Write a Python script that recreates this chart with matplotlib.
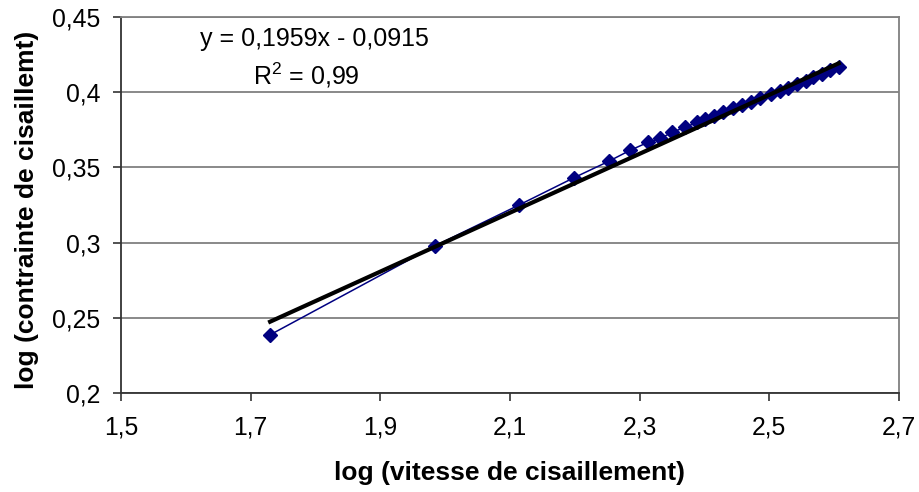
import matplotlib
matplotlib.use("Agg")
import matplotlib.pyplot as plt
import numpy as np

# log (vitesse de cisaillement)
log_shear_rate = [1.730, 1.985, 2.114, 2.198, 2.252, 2.285, 2.313, 2.332, 2.350,
                  2.370, 2.389, 2.401, 2.414, 2.429, 2.444, 2.458, 2.471, 2.486,
                  2.502, 2.517, 2.529, 2.543, 2.556, 2.568, 2.581, 2.594, 2.607]
# log (contrainte de cisaillement)
log_shear_stress = [0.2387, 0.2980, 0.3250, 0.3430, 0.3540, 0.3613, 0.3667, 0.3693, 0.3733,
                    0.3767, 0.3800, 0.3822, 0.3844, 0.3870, 0.3895, 0.3917, 0.3938, 0.3961,
                    0.3986, 0.4011, 0.4029, 0.4054, 0.4076, 0.4098, 0.4121, 0.4145, 0.4168]

slope = 0.1959
intercept = -0.0915
r2_text = "R$^2$ = 0,99"
eq_text = "y = 0,1959x - 0,0915"

x_ticks = [1.5, 1.7, 1.9, 2.1, 2.3, 2.5, 2.7]
y_ticks = [0.2, 0.25, 0.3, 0.35, 0.4, 0.45]

plt.rcParams['font.family'] = ['Liberation Sans', 'DejaVu Sans']
plt.rcParams['mathtext.fontset'] = 'custom'
plt.rcParams['mathtext.rm'] = 'Liberation Sans'

fig = plt.figure(figsize=(9.2, 4.92), dpi=100)
ax = fig.add_axes([121 / 920, 1 - 393 / 492, 778 / 920, 376 / 492])

ax.plot(log_shear_rate, log_shear_stress, color="#000080", lw=1.1,
        marker="D", markersize=7, markerfacecolor="#000080",
        markeredgecolor="#000080", zorder=3)

# trend line from the equation shown on the chart
xs = np.array([min(log_shear_rate), max(log_shear_rate)])
ax.plot(xs, slope * xs + intercept, color="black", lw=3, zorder=4)

ax.set_xlim(1.5, 2.7)
ax.set_ylim(0.2, 0.45)
ax.set_xticks(x_ticks)
ax.set_yticks(y_ticks)
ax.set_xticklabels([("%g" % v).replace(".", ",") for v in x_ticks])
ax.set_yticklabels([("%g" % v).replace(".", ",") for v in y_ticks])
ax.tick_params(labelsize=17.8, length=6, width=1.2, color="#333333")
ax.tick_params(axis="x", pad=10)
ax.tick_params(axis="y", pad=9)

ax.yaxis.grid(True, color="#808080", lw=1.3)
ax.set_axisbelow(True)
for s in ["top", "right"]:
    ax.spines[s].set_color("#808080")
    ax.spines[s].set_linewidth(1.3)
for s in ["left", "bottom"]:
    ax.spines[s].set_color("#333333")
    ax.spines[s].set_linewidth(1.3)

ax.set_xlabel("log (vitesse de cisaillement)", fontsize=19, fontweight="bold")
ax.set_ylabel("log (contrainte de cisaillemt)", fontsize=19, fontweight="bold")
ax.xaxis.set_label_coords(0.5, -0.181)
ax.yaxis.set_label_coords(-0.1054, 0.487)

ax.text(1.7986, 0.4307, eq_text, fontsize=18, ha="center", va="baseline")
ax.text(1.7855, 0.4053, r2_text, fontsize=18, ha="center", va="baseline")

fig.savefig("out.png", dpi=100)
